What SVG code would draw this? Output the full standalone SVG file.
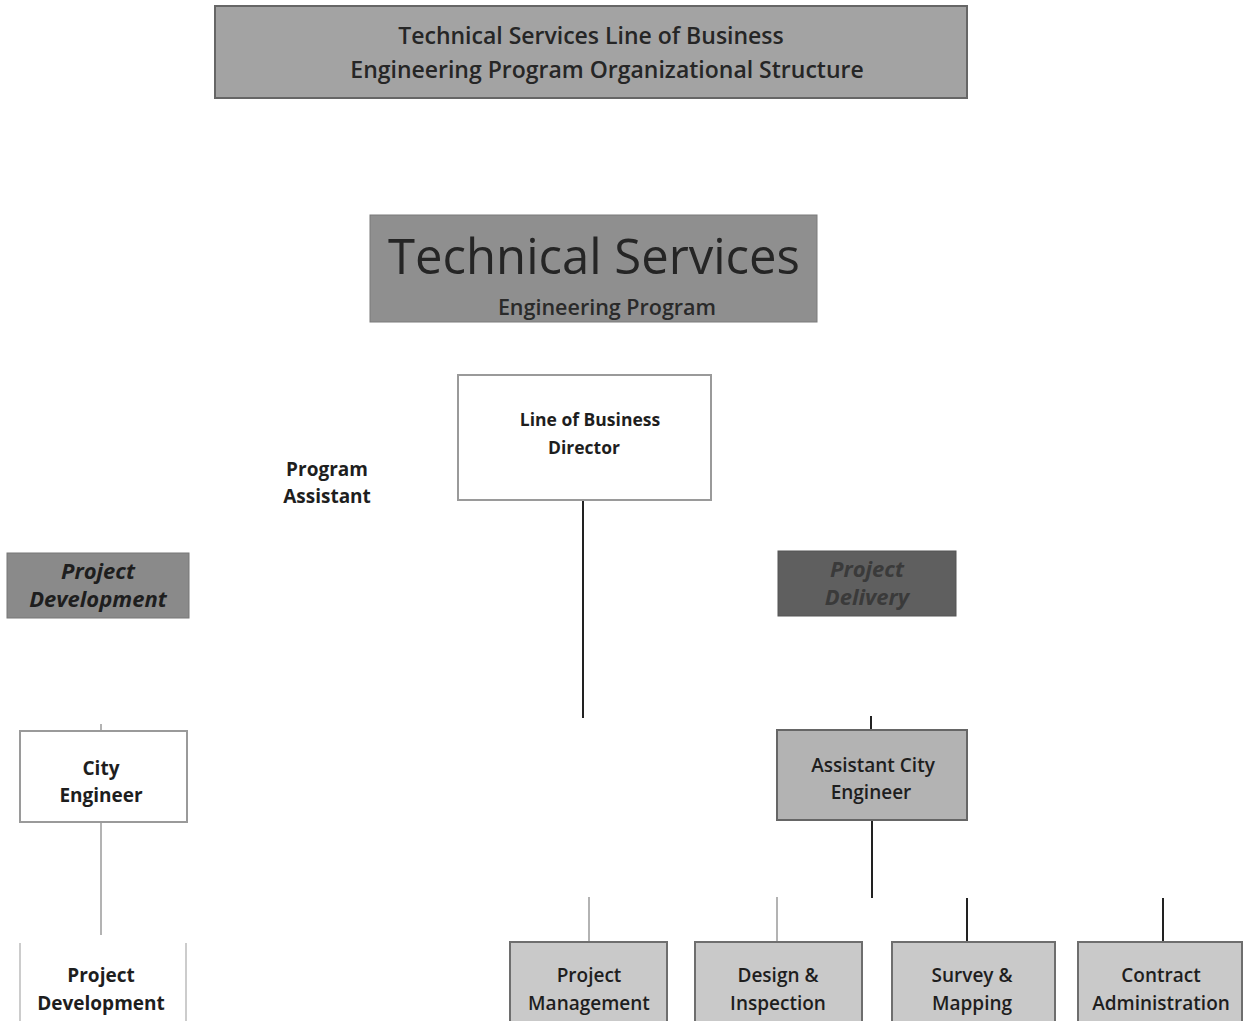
<svg xmlns="http://www.w3.org/2000/svg" width="1247" height="1021" viewBox="0 0 1247 1021">
<style>
  text { font-family: "Open Sans", "Liberation Sans", sans-serif; fill: #1e1e1e; text-anchor: middle; }
  .hdr { font-size: 23px; font-weight: 600; fill: #262626; }
  .lbl { font-size: 19px; font-weight: 700; }
  .ital { font-size: 22px; font-weight: 700; font-style: italic; }
  .box { stroke: #666; stroke-width: 2; }
  .white { fill: #ffffff; stroke: #9a9a9a; stroke-width: 2; }
  .leaf { fill: #c9c9c9; stroke: #6e6e6e; stroke-width: 2; }
  .conn { stroke: #222; stroke-width: 2; fill: none; }
  .faint { stroke: #9a9a9a; stroke-width: 1.5; fill: none; }
</style>
<rect width="1247" height="1021" fill="#ffffff"/>

<g id="connectors">
  <line class="conn" x1="583" y1="500" x2="583" y2="718"/>
  <line class="conn" x1="871" y1="716" x2="871" y2="730"/>
  <line class="conn" x1="872" y1="820" x2="872" y2="898"/>
  <line class="faint" x1="101" y1="724" x2="101" y2="731"/>
  <line class="faint" x1="101" y1="822" x2="101" y2="935"/>
  <line class="faint" x1="589" y1="897" x2="589" y2="942"/>
  <line class="faint" x1="777" y1="897" x2="777" y2="942"/>
  <line class="conn" x1="967" y1="898" x2="967" y2="942"/>
  <line class="conn" x1="1163" y1="898" x2="1163" y2="942"/>
</g>

<g id="title">
  <rect class="box" x="215" y="6" width="752" height="92" fill="#a3a3a3"/>
  <text class="hdr" x="591" y="44">Technical Services Line of Business</text>
  <text class="hdr" x="607" y="78">Engineering Program Organizational Structure</text>
</g>

<g id="technical-services">
  <rect x="370" y="215" width="447" height="107" fill="#8f8f8f" stroke="#7a7a7a" stroke-width="1"/>
  <text x="594" y="274" style="font-size:49px;fill:#252525">Technical Services</text>
  <text x="607" y="315" style="font-size:21.5px;font-weight:600;fill:#2a2a2a">Engineering Program</text>
</g>

<g id="lob-director">
  <rect class="white" x="458" y="375" width="253" height="125"/>
  <text class="lbl" x="590" y="426" style="font-size:17.5px">Line of Business</text>
  <text class="lbl" x="584" y="454" style="font-size:17.5px">Director</text>
</g>

<g id="program-assistant">
  <text class="lbl" x="327" y="476">Program</text>
  <text class="lbl" x="327" y="503">Assistant</text>
</g>

<g id="project-development-header">
  <rect x="7" y="553" width="182" height="65" fill="#8a8a8a" stroke="#777" stroke-width="1"/>
  <text class="ital" x="98" y="579">Project</text>
  <text class="ital" x="98" y="607">Development</text>
</g>

<g id="project-delivery-header">
  <rect x="778" y="551" width="178" height="65" fill="#5f5f5f" stroke="#555" stroke-width="1"/>
  <text class="ital" x="867" y="577" style="fill:#3a3a3a">Project</text>
  <text class="ital" x="867" y="605" style="fill:#3a3a3a">Delivery</text>
</g>

<g id="city-engineer">
  <rect class="white" x="20" y="731" width="167" height="91"/>
  <text class="lbl" x="101" y="775">City</text>
  <text class="lbl" x="101" y="802">Engineer</text>
</g>

<g id="project-development">
  <line x1="20" y1="943" x2="20" y2="1021" stroke="#bbb" stroke-width="1.5"/>
  <line x1="186" y1="943" x2="186" y2="1021" stroke="#bbb" stroke-width="1.5"/>
  <text class="lbl" x="101" y="982">Project</text>
  <text class="lbl" x="101" y="1010">Development</text>
</g>

<g id="assistant-city-engineer">
  <rect class="box" x="777" y="730" width="190" height="90" fill="#b3b3b3"/>
  <text class="lbl" x="873" y="772" style="font-weight:600">Assistant City</text>
  <text class="lbl" x="871" y="799" style="font-weight:600">Engineer</text>
</g>

<g id="project-management">
  <rect class="leaf" x="510" y="942" width="157" height="85"/>
  <text class="lbl" x="589" y="982" style="font-weight:600">Project</text>
  <text class="lbl" x="589" y="1010" style="font-weight:600">Management</text>
</g>

<g id="design-inspection">
  <rect class="leaf" x="695" y="942" width="167" height="85"/>
  <text class="lbl" x="778" y="982" style="font-weight:600">Design &amp;</text>
  <text class="lbl" x="778" y="1010" style="font-weight:600">Inspection</text>
</g>

<g id="survey-mapping">
  <rect class="leaf" x="892" y="942" width="163" height="85"/>
  <text class="lbl" x="972" y="982" style="font-weight:600">Survey &amp;</text>
  <text class="lbl" x="972" y="1010" style="font-weight:600">Mapping</text>
</g>

<g id="contract-administration">
  <rect class="leaf" x="1078" y="942" width="164" height="85"/>
  <text class="lbl" x="1161" y="982" style="font-weight:600">Contract</text>
  <text class="lbl" x="1161" y="1010" style="font-weight:600">Administration</text>
</g>
</svg>
